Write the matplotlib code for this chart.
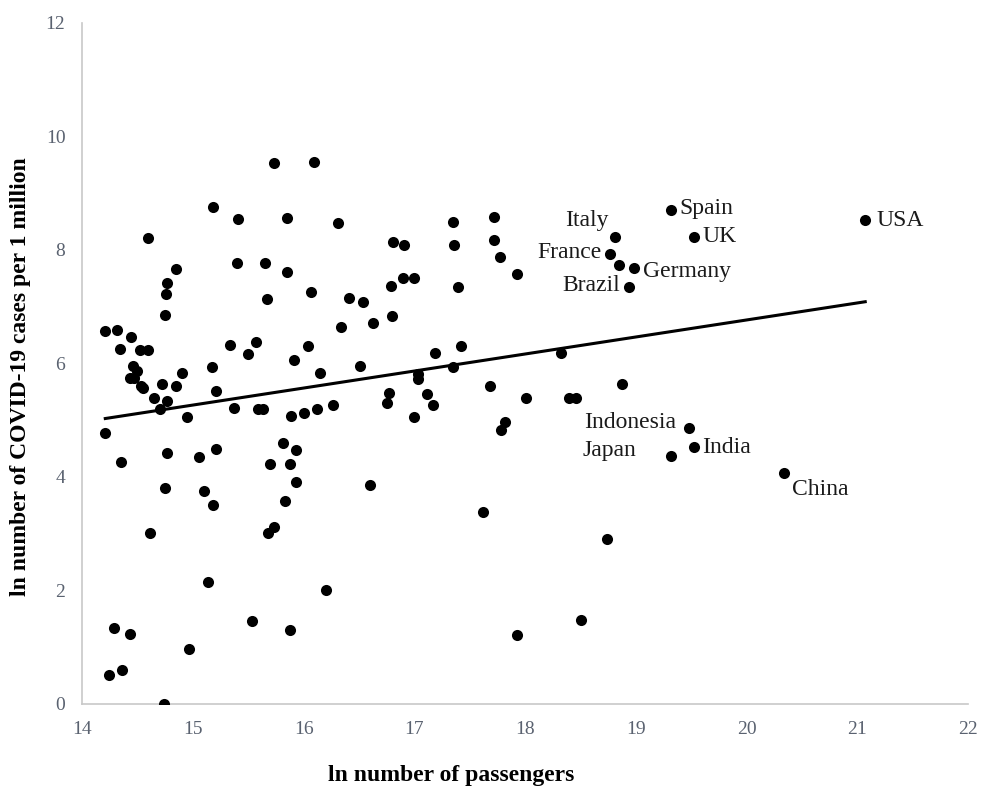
import numpy as np
import matplotlib.pyplot as plt

plt.rcParams['font.family'] = ['Liberation Serif', 'DejaVu Serif']

# unlabeled countries: ln passengers, ln cases per 1M
x_other = [14.21, 14.32, 14.44, 14.34, 14.52, 14.60, 14.46, 14.50, 14.43, 14.47,
           14.53, 14.55, 14.65, 14.72, 14.77, 14.70, 14.85, 14.90, 15.17, 15.21,
           14.95, 15.37, 15.59, 15.63, 15.89, 16.00, 16.12, 16.27, 15.34, 15.50,
           15.57, 15.91, 16.04, 16.15, 16.34, 16.51, 16.41, 16.54, 16.07, 15.67,
           15.85, 15.65, 15.40, 15.41, 15.18, 15.85, 16.31, 15.73, 16.09, 14.60,
           14.85, 14.77, 14.76, 14.75, 14.21, 14.35, 14.77, 15.06, 15.21, 15.81,
           15.93, 15.70, 15.88, 15.93, 14.75, 15.10, 15.18, 15.83, 14.61, 15.73,
           15.68, 15.14, 16.20, 14.29, 14.43, 15.53, 15.88, 14.97, 14.24, 14.36,
           14.74, 16.81, 16.91, 17.35, 17.36, 17.72, 17.72, 17.77, 17.93, 16.90,
           17.00, 16.79, 17.39, 16.63, 16.80, 17.19, 17.42, 17.03, 17.03, 17.35,
           18.32, 17.68, 18.01, 18.40, 18.46, 16.77, 16.75, 17.11, 17.17, 17.00,
           17.82, 17.78, 16.60, 17.62, 18.74, 18.50, 17.93, 18.87, 18.85]
y_other = [6.57, 6.59, 6.47, 6.26, 6.24, 6.23, 5.96, 5.87, 5.75, 5.74,
           5.60, 5.56, 5.40, 5.63, 5.34, 5.20, 5.61, 5.84, 5.94, 5.52,
           5.06, 5.21, 5.20, 5.19, 5.08, 5.13, 5.19, 5.27, 6.32, 6.17,
           6.38, 6.06, 6.30, 5.84, 6.64, 5.96, 7.16, 7.08, 7.26, 7.14,
           7.62, 7.77, 7.77, 8.55, 8.75, 8.57, 8.48, 9.53, 9.55, 8.21,
           7.66, 7.42, 7.23, 6.86, 4.77, 4.27, 4.43, 4.35, 4.50, 4.59,
           4.48, 4.23, 4.23, 3.91, 3.81, 3.75, 3.50, 3.57, 3.01, 3.11,
           3.02, 2.15, 2.01, 1.34, 1.23, 1.46, 1.31, 0.96, 0.51, 0.60,
           0.00, 8.14, 8.08, 8.50, 8.08, 8.58, 8.17, 7.87, 7.58, 7.51,
           7.51, 7.37, 7.34, 6.72, 6.84, 6.19, 6.30, 5.81, 5.73, 5.93,
           6.19, 5.61, 5.40, 5.39, 5.39, 5.48, 5.30, 5.46, 5.27, 5.05,
           4.96, 4.82, 3.85, 3.39, 2.91, 1.48, 1.21, 5.63, 7.74]

countries = ['Spain', 'UK', 'USA', 'Italy', 'France', 'Germany', 'Brazil',
             'Indonesia', 'India', 'Japan', 'China']
x_named = [19.32, 19.52, 21.07, 18.81, 18.77, 18.98, 18.94, 19.48, 19.52, 19.32, 20.34]
y_named = [8.71, 8.23, 8.52, 8.23, 7.93, 7.68, 7.35, 4.87, 4.52, 4.37, 4.07]

# linear trend shown in the chart
fit_slope = 0.30
fit_intercept = 0.767

# label placement (pixel offsets, alignment)
label_pos = {
    'Spain': (8, 1, 'left'), 'UK': (9, 0, 'left'), 'USA': (11, 0, 'left'),
    'Italy': (-6, 16, 'right'), 'France': (-9, 1, 'right'),
    'Germany': (9, -3, 'left'), 'Brazil': (-9, 1, 'right'),
    'Indonesia': (-13, 5, 'right'), 'India': (9, 0, 'left'),
    'Japan': (-35, 5, 'right'), 'China': (8, -16, 'left'),
}

fig = plt.figure(figsize=(9.81, 7.90), dpi=100)
ax = fig.add_axes([0.0836, 0.1089, 0.9034, 0.862])

all_x = np.array(x_other + x_named)
xs = np.array([all_x.min(), all_x.max()])
ax.plot(xs, fit_intercept + fit_slope * xs, color='black', lw=2.2, zorder=2)

ax.scatter(x_other, y_other, s=64, color='black', zorder=3, linewidths=0)
ax.scatter(x_named, y_named, s=64, color='black', zorder=3, linewidths=0)

for name, xv, yv in zip(countries, x_named, y_named):
    dx, dy, ha = label_pos[name]
    ax.annotate(name, (xv, yv), xytext=(dx, dy), textcoords='offset pixels',
                ha=ha, va='center', fontsize=17, color='#1a1a1a')

ax.set_xlim(14, 22)
ax.set_ylim(0, 12)
ax.set_xticks(range(14, 23))
ax.set_yticks(range(0, 13, 2))
ax.tick_params(length=0, labelsize=14, colors='#5a6270', pad=12)
for side in ['top', 'right']:
    ax.spines[side].set_visible(False)
for side in ['left', 'bottom']:
    ax.spines[side].set_color('#c8c8c8')
    ax.spines[side].set_linewidth(1.2)

ax.set_xlabel('ln number of passengers', fontsize=17, fontweight='bold')
ax.xaxis.set_label_coords(0.417, -0.089)
ax.set_ylabel('ln number of COVID-19 cases per 1 million', fontsize=17,
              fontweight='bold')
ax.yaxis.set_label_coords(-0.057, 0.481)

fig.savefig('out.png', dpi=100)
